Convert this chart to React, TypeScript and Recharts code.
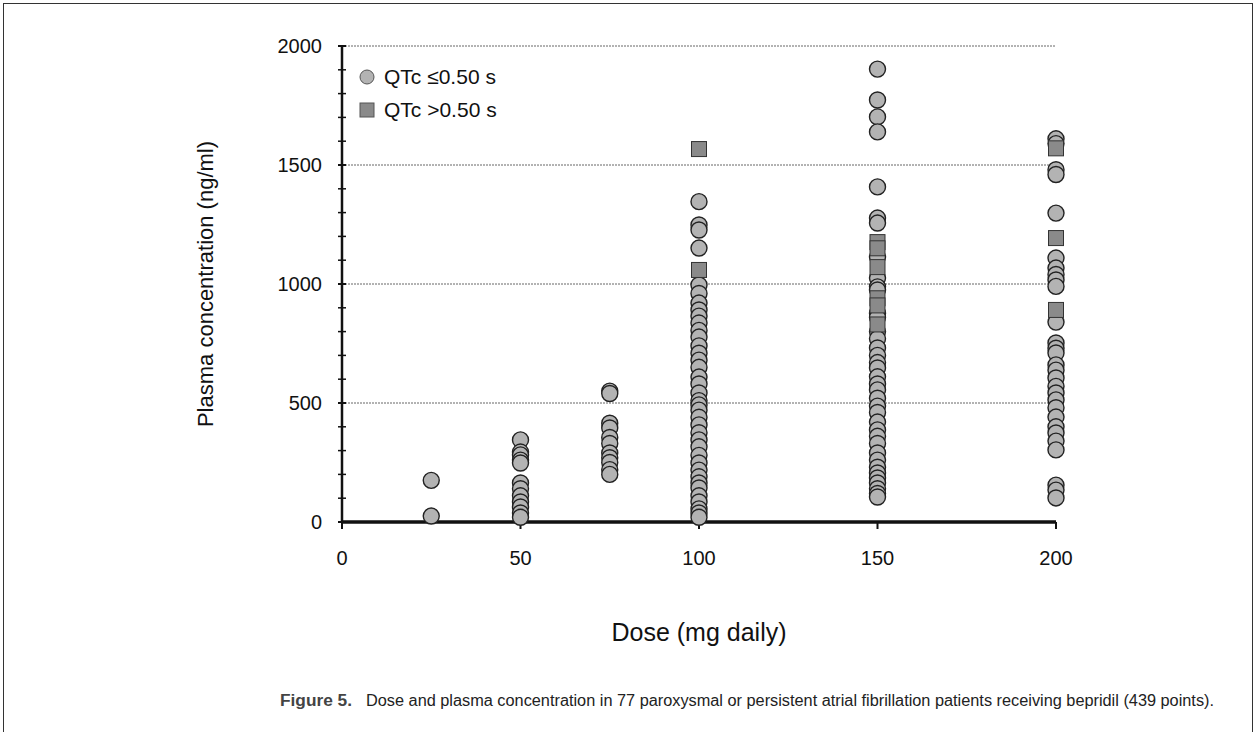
import React from 'react'
import { ScatterChart, Scatter, XAxis, YAxis, ReferenceLine } from 'recharts'

// concentration readings (ng/ml) per daily dose, QTc <= 0.50 s
const lowQtc25 = [175, 25]
const lowQtc50 = [345, 294, 282, 260, 248, 164, 140, 110, 84, 63, 38, 20]
const lowQtc75 = [550, 540, 415, 395, 355, 330, 290, 270, 250, 220, 200]
const lowQtc100 = [1346, 1248, 1227, 1151, 996, 960, 920, 891, 865, 836, 805, 777, 740, 709, 680, 650, 609, 580, 542, 510, 492, 470, 440, 408, 375, 345, 316, 280, 248, 218, 190, 164, 143, 110, 84, 55, 38, 20]
const lowQtc150 = [1903, 1773, 1702, 1639, 1408, 1277, 1256, 1113, 1025, 988, 975, 877, 860, 800, 770, 731, 700, 670, 647, 610, 580, 555, 520, 487, 460, 420, 387, 360, 330, 290, 260, 230, 206, 185, 164, 140, 120, 105]
const lowQtc200 = [1610, 1590, 1480, 1460, 1298, 1109, 1067, 1040, 1017, 990, 840, 752, 730, 710, 660, 638, 605, 570, 542, 513, 480, 441, 400, 374, 340, 303, 155, 134, 101]

// QTc > 0.50 s
const highQtc100 = [1567, 1059]
const highQtc150 = [1176, 1150, 1071, 940, 910, 830]
const highQtc200 = [1570, 1193, 891]

const xTicks = [0, 50, 100, 150, 200]
const yTicks = [0, 100, 200, 300, 400, 500, 600, 700, 800, 900, 1000, 1100, 1200, 1300, 1400, 1500, 1600, 1700, 1800, 1900, 2000]
const gridValues = [500, 1000, 1500, 2000]

const toPoints = (dose: number, values: number[]) => values.map(conc => ({ dose, conc }))

const lowPoints = [
  ...toPoints(25, lowQtc25),
  ...toPoints(50, lowQtc50),
  ...toPoints(75, lowQtc75),
  ...toPoints(100, lowQtc100),
  ...toPoints(150, lowQtc150),
  ...toPoints(200, lowQtc200)
]

const highPoints = [
  ...toPoints(100, highQtc100),
  ...toPoints(150, highQtc150),
  ...toPoints(200, highQtc200)
]

const FONT = '"Liberation Sans", Arial, sans-serif'
const CIRCLE_FILL = '#b3b3b3'
const SQUARE_FILL = '#8a8a8a'

const CircleMark = (props: any) => (
  <circle cx={props.cx} cy={props.cy} r={8} fill={CIRCLE_FILL} stroke="#222" strokeWidth={1.4} />
)

const SquareMark = (props: any) => (
  <rect x={props.cx - 7.5} y={props.cy - 7.5} width={15} height={15} fill={SQUARE_FILL} stroke="#333" strokeWidth={1} />
)

// minor tick every 100, label only on the 500s
const YTick = (props: any) => {
  const { x, y, payload } = props
  const major = payload.value % 500 === 0
  return (
    <g>
      <line x1={x - 4} x2={x + 4} y1={y} y2={y} stroke="#111" strokeWidth={major ? 2 : 1.5} />
      {major && (
        <text x={x - 20} y={y} dy="0.36em" textAnchor="end" fontSize={20} fill="#111" fontFamily={FONT}>
          {payload.value}
        </text>
      )}
    </g>
  )
}

export default function App() {
  return (
    <div style={{ position: 'absolute', left: 0, top: 0, width: 1256, height: 732, overflow: 'hidden', background: '#fff', fontFamily: FONT }}>
      <div style={{ position: 'absolute', left: 3, top: 3, width: 1248, height: 800, border: '1px solid #333' }} />

      <ScatterChart width={1256} height={732} margin={{ top: 46, right: 200, bottom: 170, left: 0 }}>
        <XAxis
          type="number"
          dataKey="dose"
          domain={[0, 200]}
          ticks={xTicks}
          height={40}
          tickSize={7}
          tickMargin={22}
          axisLine={{ stroke: '#111', strokeWidth: 3.5 }}
          tickLine={{ stroke: '#111', strokeWidth: 2 }}
          tick={{ fontSize: 20, fill: '#111', fontFamily: FONT }}
        />
        <YAxis
          type="number"
          dataKey="conc"
          domain={[0, 2000]}
          ticks={yTicks}
          width={342}
          tickSize={0}
          tickMargin={0}
          interval={0}
          axisLine={{ stroke: '#111', strokeWidth: 2.5 }}
          tickLine={false}
          tick={<YTick />}
        />
        {gridValues.map(v => (
          <ReferenceLine key={v} y={v} stroke="#666" strokeWidth={1} strokeDasharray="2 1" />
        ))}
        <Scatter data={lowPoints} shape={<CircleMark />} isAnimationActive={false} />
        <Scatter data={highPoints} shape={<SquareMark />} isAnimationActive={false} />
      </ScatterChart>

      {/* legend */}
      <div style={{ position: 'absolute', left: 358, top: 63, lineHeight: '28px', fontSize: 21, color: '#111' }}>
        <div style={{ display: 'flex', alignItems: 'center', height: 28 }}>
          <svg width={18} height={18}><circle cx={9} cy={9} r={7} fill={CIRCLE_FILL} stroke="#555" strokeWidth={1} /></svg>
          <span style={{ marginLeft: 8 }}>QTc ≤0.50 s</span>
        </div>
        <div style={{ display: 'flex', alignItems: 'center', height: 28, marginTop: 5 }}>
          <svg width={18} height={18}><rect x={2} y={2} width={14} height={14} fill={SQUARE_FILL} stroke="#555" strokeWidth={1} /></svg>
          <span style={{ marginLeft: 8 }}>QTc &gt;0.50 s</span>
        </div>
      </div>

      {/* axis titles */}
      <div style={{ position: 'absolute', left: 206, top: 284, transform: 'translate(-50%, -50%) rotate(-90deg)', whiteSpace: 'nowrap', fontSize: 22, color: '#111' }}>
        Plasma concentration (ng/ml)
      </div>
      <div style={{ position: 'absolute', left: 699, top: 632, transform: 'translate(-50%, -50%)', whiteSpace: 'nowrap', fontSize: 25, color: '#111' }}>
        Dose (mg daily)
      </div>

      {/* caption */}
      <svg style={{ position: 'absolute', left: 0, top: 680 }} width={1256} height={40}>
        <text x={280} y={26} fontSize={16} fontWeight="bold" fill="#444" fontFamily={FONT} textLength={72} lengthAdjust="spacingAndGlyphs">Figure 5.</text>
        <text x={366} y={26} fontSize={16} fill="#222" fontFamily={FONT} textLength={848} lengthAdjust="spacingAndGlyphs">
          Dose and plasma concentration in 77 paroxysmal or persistent atrial fibrillation patients receiving bepridil (439 points).
        </text>
      </svg>
    </div>
  )
}
